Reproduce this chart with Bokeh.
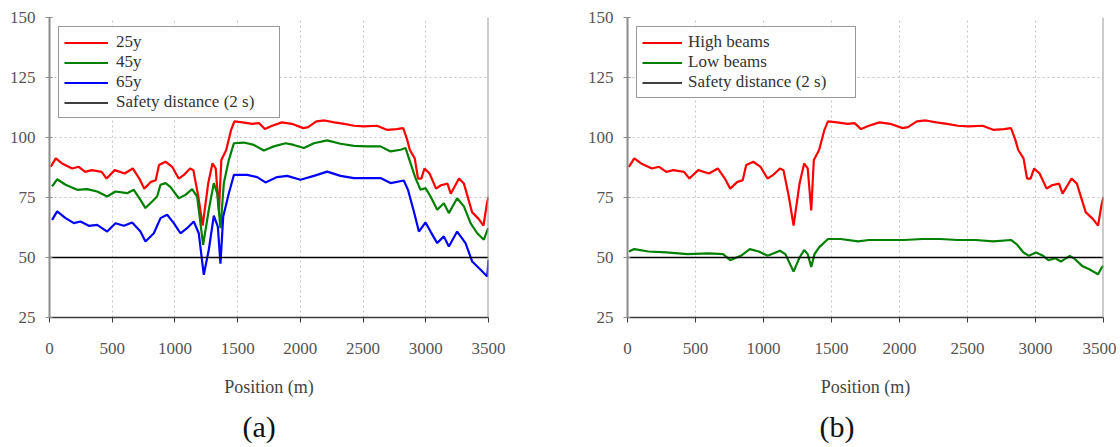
from bokeh.plotting import figure
from bokeh.layouts import row
from bokeh.models import Range1d, FixedTicker, Span, Legend, LegendItem, Title
from bokeh.embed import file_html
from bokeh.resources import INLINE

# ---- data ----
x_ticks = [0, 500, 1000, 1500, 2000, 2500, 3000, 3500]
y_ticks = [25, 50, 75, 100, 125, 150]

# 25y driver == high beams curve
pos_high = [10, 50, 100, 180, 233, 285, 337, 416, 455, 520, 599, 664, 716, 755, 808, 847, 873, 925,
            978, 1030, 1069, 1121, 1147, 1187, 1221, 1265, 1299, 1325, 1351, 1370, 1409, 1448, 1474,
            1540, 1618, 1670, 1717, 1775, 1853, 1932, 2023, 2062, 2128, 2193, 2271, 2350, 2428, 2506,
            2611, 2689, 2768, 2820, 2852, 2873, 2912, 2938, 2964, 2990, 3030, 3082, 3121, 3173, 3199,
            3265, 3304, 3369, 3421, 3460, 3487, 3500]
val_high = [87.8, 91.3, 89.2, 87.1, 87.8, 85.7, 86.4, 85.7, 82.9, 86.4, 85.0, 87.1, 82.9, 78.7, 81.5,
            82.2, 88.5, 89.9, 87.8, 82.9, 84.3, 87.1, 86.4, 75.2, 63.3, 80.8, 89.2, 87.1, 69.6, 90.6,
            94.8, 103.2, 106.7, 106.3, 105.7, 106.0, 103.5, 104.9, 106.3, 105.7, 103.9, 104.3, 106.7,
            107.1, 106.3, 105.7, 104.9, 104.6, 104.9, 103.2, 103.5, 103.9, 99.0, 94.8, 91.3, 82.9,
            82.9, 87.1, 85.0, 78.7, 80.1, 80.8, 76.6, 82.9, 80.8, 68.9, 66.1, 63.3, 72.4, 75.2]

pos_low = [10, 50, 154, 285, 442, 599, 703, 755, 834, 899, 965, 1030, 1121, 1161, 1221, 1265, 1299,
           1325, 1351, 1375, 1409, 1474, 1566, 1696, 1775, 1906, 2036, 2167, 2298, 2428, 2559, 2689,
           2820, 2860, 2912, 2951, 3004, 3056, 3095, 3147, 3186, 3252, 3291, 3343, 3395, 3460, 3487, 3500]
val_low = [52.5, 53.5, 52.5, 52.1, 51.4, 51.7, 51.4, 48.9, 50.7, 53.5, 52.5, 50.7, 52.8, 51.4, 44.1,
           50.0, 53.1, 51.4, 46.1, 51.4, 54.2, 57.7, 57.7, 56.7, 57.3, 57.3, 57.3, 57.7, 57.7, 57.3,
           57.3, 56.7, 57.3, 55.6, 52.1, 50.7, 52.1, 50.7, 48.9, 49.7, 48.3, 50.7, 49.3, 46.5, 45.1,
           43.0, 45.8, 46.5]

pos_45y = [21, 61, 128, 221, 300, 380, 460, 526, 619, 672, 725, 765, 818, 858, 885, 925, 965, 1031,
           1084, 1137, 1177, 1225, 1270, 1310, 1337, 1363, 1390, 1430, 1470, 1549, 1629, 1709, 1789,
           1882, 1948, 2028, 2108, 2214, 2320, 2427, 2533, 2639, 2719, 2799, 2839, 2865, 2918, 2958,
           2998, 3038, 3091, 3144, 3184, 3250, 3304, 3357, 3410, 3463, 3497]
val_45y = [79.6, 82.6, 80.3, 78.2, 78.5, 77.5, 75.4, 77.5, 76.8, 78.2, 74.0, 70.6, 73.3, 75.4, 80.3,
           81.0, 79.3, 74.7, 76.1, 78.5, 75.4, 55.3, 69.9, 81.0, 76.8, 62.2, 81.0, 90.7, 97.6, 97.9,
           96.9, 94.6, 96.3, 97.6, 96.9, 95.6, 97.6, 98.8, 97.4, 96.5, 96.3, 96.3, 94.2, 94.9, 95.6,
           91.4, 83.1, 78.2, 78.9, 75.4, 69.9, 72.6, 68.5, 74.7, 71.3, 64.3, 60.1, 57.4, 62.2]

pos_65y = [21, 61, 128, 194, 247, 314, 380, 460, 526, 593, 659, 725, 765, 832, 885, 938, 991, 1044,
           1097, 1150, 1190, 1230, 1270, 1310, 1342, 1363, 1385, 1430, 1470, 1576, 1656, 1722, 1815,
           1895, 2001, 2108, 2214, 2320, 2427, 2533, 2639, 2719, 2825, 2858, 2905, 2945, 2998, 3038,
           3091, 3144, 3184, 3250, 3317, 3370, 3437, 3490, 3500]
val_65y = [65.7, 69.2, 66.4, 64.3, 65.0, 63.2, 63.6, 60.8, 64.3, 63.2, 64.6, 60.8, 56.7, 60.1, 66.4,
           67.8, 64.3, 60.1, 62.2, 65.0, 60.1, 42.8, 53.2, 67.4, 62.9, 47.4, 67.1, 76.8, 84.4, 84.4,
           83.5, 81.3, 83.5, 84.0, 82.4, 84.0, 85.8, 84.0, 83.1, 83.1, 83.1, 81.0, 82.1, 78.2, 69.2,
           60.8, 64.6, 60.8, 56.0, 58.8, 54.6, 60.8, 56.0, 48.3, 44.9, 42.1, 49.0]

safety_x = [0, 3500]
safety_y = [50, 50]

SERIF = "'Liberation Serif', 'Times New Roman', serif"


def make_panel(width, height, left, top, frame_w, series, caption, cap_offset,
               glyph_w, standoff, label_w):
    p = figure(width=width, height=height, output_backend="svg", toolbar_location=None,
               x_range=Range1d(0, 3500), y_range=Range1d(25, 150),
               min_border_left=left, min_border_top=top,
               min_border_right=width - left - frame_w,
               min_border_bottom=40)
    p.frame_width = frame_w
    p.frame_height = 300
    p.outline_line_color = None
    p.background_fill_color = "white"
    p.border_fill_color = "white"

    p.xaxis.ticker = FixedTicker(ticks=x_ticks)
    p.yaxis.ticker = FixedTicker(ticks=y_ticks)
    p.xaxis.axis_label = "Position (m)"
    for ax in (p.xaxis[0], p.yaxis[0]):
        ax.major_label_text_font = SERIF
        ax.major_label_text_font_size = "17px"
        ax.major_label_text_color = "#555555"
        ax.minor_tick_line_color = None
    p.xaxis.axis_label_text_font = SERIF
    p.xaxis.axis_label_text_font_size = "18px"
    p.xaxis.axis_label_text_font_style = "normal"
    p.xaxis.axis_label_text_color = "#444444"
    p.xaxis.axis_line_color = "#3c3c3c"
    p.xaxis.axis_line_width = 1.5
    p.xaxis.major_tick_line_color = "#3c3c3c"
    p.xaxis.major_tick_out = 5
    p.xaxis.major_tick_in = 0
    p.xaxis.major_label_standoff = 20
    p.xaxis.axis_label_standoff = 20
    p.yaxis.axis_line_color = "#8c8c8c"
    p.yaxis.axis_line_width = 2
    p.yaxis.major_tick_line_color = "#8c8c8c"
    p.yaxis.major_tick_out = 4
    p.yaxis.major_tick_in = 3
    p.yaxis.major_label_standoff = 10

    p.grid.grid_line_color = "#c4c4c4"
    p.grid.grid_line_dash = "2 3"
    p.grid.grid_line_width = 1

    p.add_layout(Span(location=3500, dimension="height", line_color="#9a9a9a", line_width=2))

    items = []
    for label, xs, ys, color in series:
        r = p.line(xs, ys, line_color=color, line_width=2.2)
        items.append(LegendItem(label=label, renderers=[r]))
    rs = p.line(safety_x, safety_y, line_color="black", line_width=1.5)
    items.append(LegendItem(label="Safety distance (2 s)", renderers=[rs]))

    leg = Legend(items=items, location="top_left")
    leg.margin = 9
    leg.padding = 5
    leg.spacing = 0
    leg.glyph_width = glyph_w
    leg.glyph_height = 19
    leg.label_height = 19
    leg.label_width = label_w
    leg.label_standoff = standoff
    leg.label_text_font = SERIF
    leg.label_text_font_size = "17px"
    leg.label_text_color = "#333333"
    leg.border_line_color = "#333333"
    leg.border_line_width = 1
    leg.background_fill_color = "white"
    leg.background_fill_alpha = 1
    p.add_layout(leg, "center")

    t = Title(text=caption, align="left", offset=cap_offset, standoff=17,
              text_font=SERIF, text_font_size="30px", text_font_style="normal",
              text_color="#111111")
    p.add_layout(t, "below")
    return p


p1 = make_panel(558, 442, 49, 14, 439,
                [("25y", pos_high, val_high, "#ff0000"),
                 ("45y", pos_45y, val_45y, "#008000"),
                 ("65y", pos_65y, val_65y, "#0000ff")],
                "(a)", 193, 44, 8, 158)
p2 = make_panel(558, 442, 69, 17, 476,
                [("High beams", pos_high, val_high, "#ff0000"),
                 ("Low beams", pos_low, val_low, "#008000")],
                "(b)", 192, 40, 6, 162)

layout = row(p1, p2)
open("out.html", "w").write(file_html(layout, INLINE))
